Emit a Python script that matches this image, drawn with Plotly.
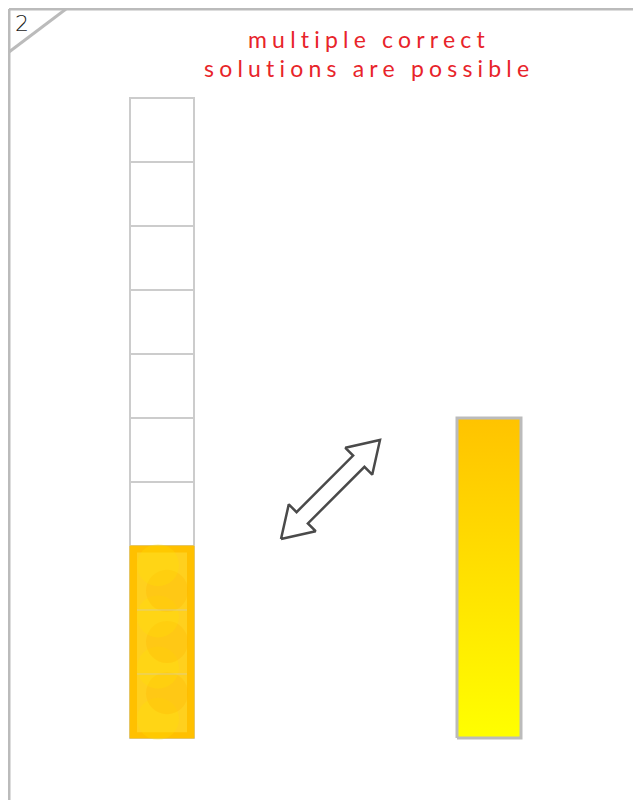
import math
import plotly.graph_objects as go

# ---- data ----
column_cells = 10          # number of unit cells in the left column
filled_units = 3           # filled units in the left column
bar_units = 5              # length of the right bar, in units
title_lines = ["multiple correct", "solutions are possible"]
page_number = "2"

OFF = 8                     # page body margin
W, H = 641 - OFF, 800 - OFF
UNIT_PX = 64
BASE_PX = 738               # page pixel row of value 0
y_lo = (BASE_PX - (H + OFF)) / UNIT_PX
y_hi = (BASE_PX - OFF) / UNIT_PX

col_x = 162
bar_x = 489
grid_col = "#cccccc"

fig = go.Figure()

# empty cells of the left column
fig.add_trace(go.Bar(
    x=[col_x] * column_cells, y=[1] * column_cells,
    base=list(range(column_cells)), width=64,
    marker=dict(color="white", line=dict(color=grid_col, width=2)),
    hoverinfo="skip", showlegend=False))

# filled part
fig.add_trace(go.Bar(
    x=[col_x], y=[filled_units], base=[0], width=64,
    marker=dict(color="#FFC000", line=dict(color="#FFC000", width=1)),
    hoverinfo="skip", showlegend=False))
fig.add_trace(go.Bar(
    x=[col_x], y=[filled_units - 0.19], base=[0.09], width=50,
    marker=dict(color="#FFD01E", line=dict(width=0)),
    hoverinfo="skip", showlegend=False))
# mottled texture in the filled part
tex_y = [i * 0.4 + 0.3 for i in range(int(filled_units * 2.5))]
tex_x = [col_x + (5 if i % 2 else -4) for i in range(len(tex_y))]
tex_c = ["#FFB400" if i % 2 else "#FFE400" for i in range(len(tex_y))]
fig.add_trace(go.Scatter(
    x=tex_x, y=tex_y, mode="markers",
    marker=dict(size=42, color=tex_c, opacity=0.28, line=dict(width=0)),
    hoverinfo="skip", showlegend=False))
# faint unit lines inside the fill
for k in range(1, filled_units):
    fig.add_shape(type="line", x0=col_x - 25, x1=col_x + 25, y0=k, y1=k,
                  line=dict(color="rgba(205,205,205,0.6)", width=1))

# right gradient bar
fig.add_trace(go.Scatter(
    x=[bar_x - 32, bar_x + 32, bar_x + 32, bar_x - 32, bar_x - 32],
    y=[0, 0, bar_units, bar_units, 0],
    fill="toself", mode="lines",
    line=dict(color="#bbbbbb", width=3),
    fillgradient=dict(type="vertical", start=0, stop=bar_units,
                      colorscale=[[0, "#FFFF00"], [1, "#FFC300"]]),
    hoverinfo="skip", showlegend=False))

# double arrow (page-pixel coordinates, y2)
cx, cy = 330.5, 489.5
L, hl, hw, sw = 140, 30, 19, 8
ang = math.radians(-45)
local = [(-L/2, 0), (-L/2 + hl, hw), (-L/2 + hl, sw), (L/2 - hl, sw), (L/2 - hl, hw),
         (L/2, 0), (L/2 - hl, -hw), (L/2 - hl, -sw), (-L/2 + hl, -sw), (-L/2 + hl, -hw), (-L/2, 0)]
ax = [cx + u * math.cos(ang) - v * math.sin(ang) for u, v in local]
ay = [cy + u * math.sin(ang) + v * math.cos(ang) for u, v in local]
fig.add_trace(go.Scatter(
    x=ax, y=ay, yaxis="y2", mode="lines", fill="toself", fillcolor="white",
    line=dict(color="#4a4a4a", width=2.5), hoverinfo="skip", showlegend=False))

# page frame
frame = dict(color="#bbbbbb", width=3)
fig.add_shape(type="line", xref="x", yref="y2", x0=9, x1=660, y0=9, y1=9, line=frame)
fig.add_shape(type="line", xref="x", yref="y2", x0=9, x1=9, y0=9, y1=820, line=frame)
fig.add_shape(type="line", xref="x", yref="y2", x0=9, x1=66, y0=52, y1=9, line=frame)

fig.add_annotation(x=22, y=23, xref="x", yref="y2", text=page_number, showarrow=False,
                   font=dict(family="DejaVu Sans Light, DejaVu Sans", size=22, color="#222222"))
for txt, yy in zip(title_lines, [39, 68]):
    fig.add_annotation(x=369, y=yy, xref="x", yref="y2",
                       text='<span style="letter-spacing:5.2px">' + txt + '</span>',
                       showarrow=False,
                       font=dict(family="Lato", size=23, color="#E8242A"))

fig.update_layout(
    width=W, height=H, margin=dict(l=0, r=0, t=0, b=0),
    paper_bgcolor="white", plot_bgcolor="white", barmode="overlay",
    xaxis=dict(range=[OFF, W + OFF], visible=False, fixedrange=True),
    yaxis=dict(range=[y_lo, y_hi], visible=False, fixedrange=True),
    yaxis2=dict(range=[H + OFF, OFF], overlaying="y", visible=False, fixedrange=True),
)
fig.write_html("out.html")
